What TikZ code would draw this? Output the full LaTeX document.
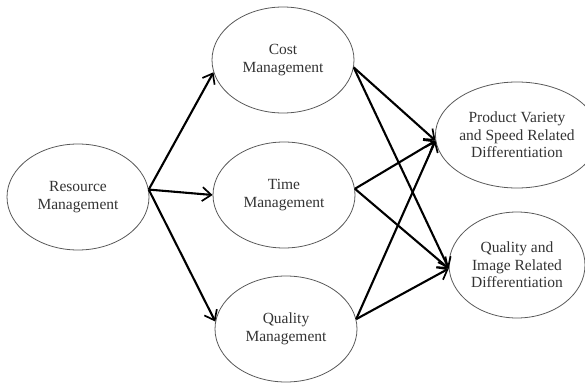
\documentclass[tikz,border=0pt]{standalone}
\usepackage{fontspec}
\setmainfont{Liberation Serif}
\usetikzlibrary{shapes.geometric,arrows.meta}
\begin{document}
\begin{tikzpicture}[x=1pt,y=-1pt,
  elli/.style={ellipse,draw=black!65,line width=0.8pt,minimum width=142pt,minimum height=106pt,inner sep=0pt,align=center,font=\fontsize{15.5}{17.5}\selectfont,text=black!80},
  conn/.style={line width=2.1pt,-{Straight Barb[length=9pt,width=14pt,line width=1.7pt]}}]
\useasboundingbox (0,0) rectangle (585,385);
\node[elli] (res) at (78,197) {Resource\\Management};
\node[elli] (cost) at (283,60) {Cost\\Management};
\node[elli] (time) at (284,195) {Time\\Management};
\node[elli] (qual) at (286,329) {Quality\\Management};
\node[elli,minimum width=136pt] (pvs) at (517,135) {Product Variety\\and Speed Related\\Differentiation};
\node[elli,minimum width=136pt] (qir) at (517,265) {Quality and\\Image Related\\Differentiation};
\draw[conn] (res.6) -- (cost.190);
\draw[conn] (res.6) -- (time.180);
\draw[conn] (res.6) -- (qual.174);
\draw[conn] (cost.354) -- (pvs.184);
\draw[conn] (cost.354) -- (qir.183);
\draw[conn] (time.5) -- (pvs.184);
\draw[conn] (time.5) -- (qir.183);
\draw[conn] (qual.8) -- (pvs.184);
\draw[conn] (qual.8) -- (qir.183);
\end{tikzpicture}
\end{document}
